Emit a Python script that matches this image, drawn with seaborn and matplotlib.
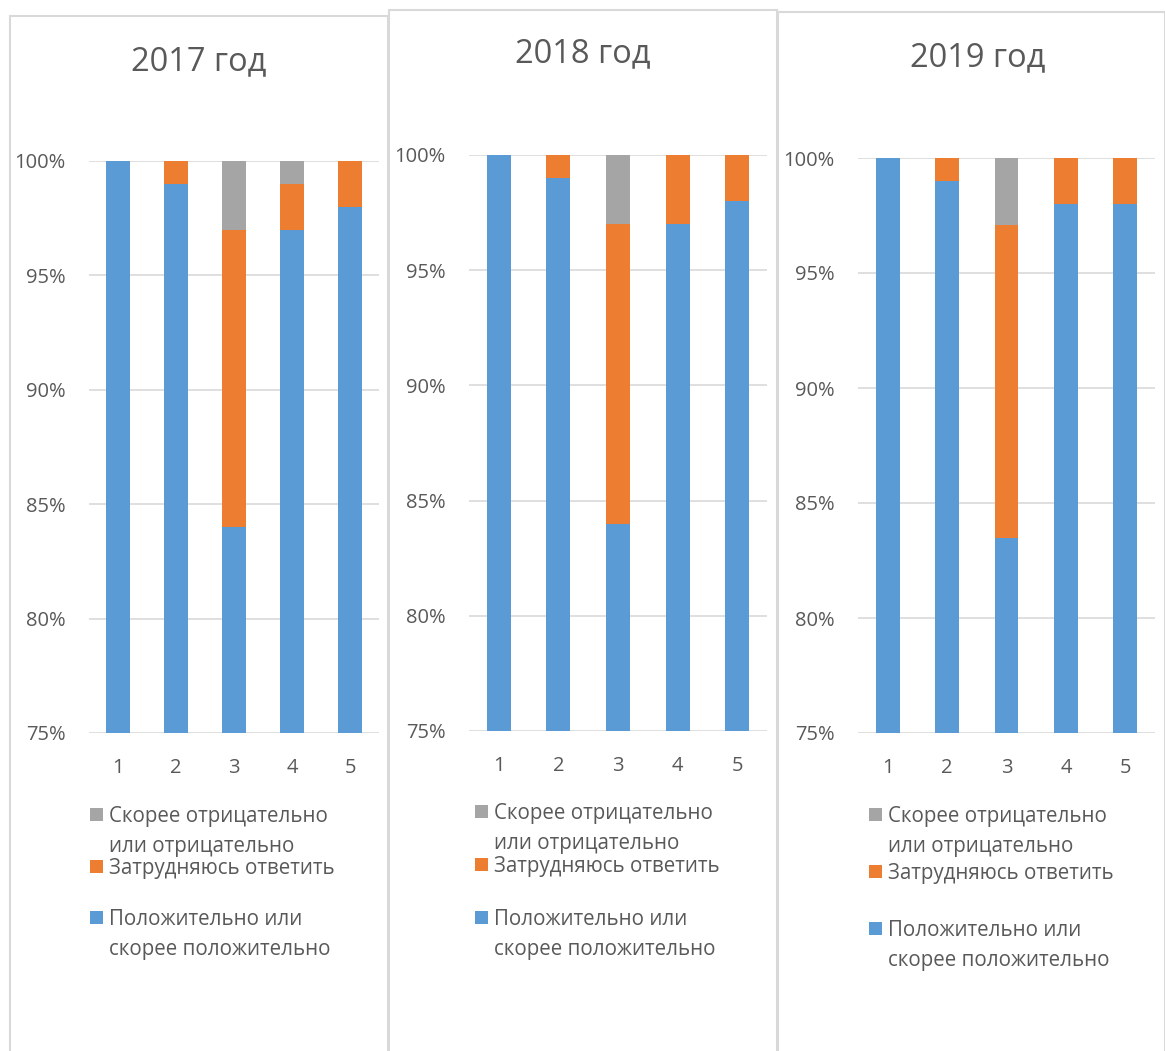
import pandas as pd
import numpy as np
import seaborn as sns
import matplotlib.pyplot as plt
from matplotlib.patches import Rectangle
from matplotlib.ticker import FuncFormatter

# Данные по годам (доля ответов, %)
questions = ['1', '2', '3', '4', '5']
years = ['2017 год', '2018 год', '2019 год']

positive_2017 = [100, 99, 84, 97, 98]
unsure_2017 = [0, 1, 13, 2, 2]
negative_2017 = [0, 0, 3, 1, 0]

positive_2018 = [100, 99, 84, 97, 98]
unsure_2018 = [0, 1, 13, 3, 2]
negative_2018 = [0, 0, 3, 0, 0]

positive_2019 = [100, 99, 83.5, 98, 98]
unsure_2019 = [0, 1, 13.6, 2, 2]
negative_2019 = [0, 0, 2.9, 0, 0]

labels = ['Скорее отрицательно\nили отрицательно',
          'Затрудняюсь ответить',
          'Положительно или\nскорее положительно']
colors = ['#A5A5A5', '#ED7D31', '#5B9BD5']
y_ticks = [75, 80, 85, 90, 95, 100]

series = [
    (positive_2017, unsure_2017, negative_2017),
    (positive_2018, unsure_2018, negative_2018),
    (positive_2019, unsure_2019, negative_2019),
]

W, H = 1165, 1051
TXT = '#595959'
GRID = '#d9d9d9'

# положение панелей в пикселях
layout = [
    dict(frame=(10, 16, 388), plot=(89, 161, 379, 733), title=(199, 62),
         leg_x=90, leg_y=[814, 866, 917]),
    dict(frame=(389, 10, 777), plot=(469, 155, 767, 731), title=(583, 54),
         leg_x=475, leg_y=[811, 864, 917]),
    dict(frame=(778, 12, 1165), plot=(858, 158, 1155, 733), title=(978, 58),
         leg_x=869, leg_y=[814, 871, 928]),
]

sns.set_style('white')
plt.rcParams['font.family'] = ['Open Sans', 'DejaVu Sans']

fig = plt.figure(figsize=(W / 100, H / 100), dpi=100)


def fx(px):
    return px / W


def fy(py):
    return 1 - py / H


for i, (year, (pos, uns, neg), lay) in enumerate(zip(years, series, layout)):
    # рамка панели
    l, t, r = lay['frame']
    fig.add_artist(Rectangle((fx(l), fy(H + 20)), fx(r - l), (H + 20 - t) / H,
                             transform=fig.transFigure, facecolor='white',
                             edgecolor=GRID, lw=1.5, zorder=-3 + i * 0.5))

    pl, pt, pr, pb = lay['plot']
    ax = fig.add_axes([fx(pl), fy(pb), fx(pr - pl), (pb - pt) / H])
    ax.set_zorder(1)
    ax.patch.set_alpha(0)

    df = pd.DataFrame({'q': questions, 'pos': pos, 'uns': uns, 'neg': neg})
    df['top_neg'] = df['pos'] + df['uns'] + df['neg']
    df['top_uns'] = df['pos'] + df['uns']
    for col, c in zip(['top_neg', 'top_uns', 'pos'], colors):
        sns.barplot(data=df, x='q', y=col, order=questions, color=c,
                    width=0.4, linewidth=0, saturation=1, ax=ax, zorder=3)

    ax.set_ylim(75, 100)
    ax.set_xlim(-0.5, 4.5)
    ax.set_yticks(y_ticks)
    ax.yaxis.set_major_formatter(FuncFormatter(lambda v, p: f'{v:.0f}%'))
    ax.set_xlabel('')
    ax.set_ylabel('')
    ax.grid(axis='y', color=GRID, lw=1.2, zorder=0)
    ax.set_axisbelow(True)
    for s in ax.spines.values():
        s.set_visible(False)
    ax.tick_params(axis='y', length=0, pad=17, labelsize=14.5, labelcolor=TXT)
    ax.tick_params(axis='x', length=0, pad=18, labelsize=14.5, labelcolor=TXT)

    tx, ty = lay['title']
    fig.text(fx(tx), fy(ty), year, ha='center', va='center', fontsize=23.5, color=TXT)

    # легенда: квадрат на уровне первой строки подписи
    sq = 13
    for lab, c, ly in zip(labels, colors, lay['leg_y']):
        fig.add_artist(Rectangle((fx(lay['leg_x']), fy(ly + sq / 2)), fx(sq), sq / H,
                                 transform=fig.transFigure, facecolor=c, lw=0, zorder=2))
        for k, line in enumerate(lab.split('\n')):
            fig.text(fx(lay['leg_x'] + sq + 6), fy(ly + 30 * k), line, ha='left',
                     va='center_baseline', fontsize=14.8, color=TXT)

fig.savefig('out.png', dpi=100)
